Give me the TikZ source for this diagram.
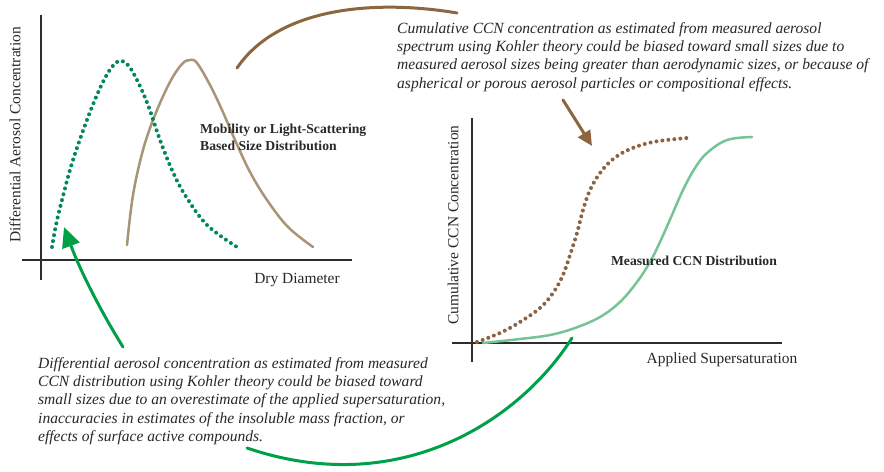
\documentclass[tikz,border=0pt]{standalone}
\usepackage{fontspec}
\setmainfont{Liberation Serif}
\usetikzlibrary{arrows.meta}
\definecolor{axisgray}{RGB}{45,45,45}
\definecolor{txtgray}{RGB}{40,40,40}
\definecolor{tanbrown}{RGB}{168,148,118}
\definecolor{arrowbrown}{RGB}{140,102,62}
\definecolor{dotbrown}{RGB}{140,100,68}
\definecolor{dotgreen}{RGB}{0,135,90}
\definecolor{lightgreen}{RGB}{118,196,150}
\definecolor{arrowgreen}{RGB}{0,160,72}
\tikzset{
  axisline/.style={draw=axisgray,line width=1.5bp},
  axislabel/.style={font=\fontsize{15.5}{17}\selectfont,text=txtgray,inner sep=0pt},
  curvelabel/.style={font=\bfseries\fontsize{13.7}{17}\selectfont,text=txtgray,inner sep=0pt,align=left},
  note/.style={font=\itshape\fontsize{15.6}{18.4}\selectfont,text=txtgray,inner sep=0pt,align=left,anchor=north west},
  dotline/.style={line width=4bp,dash pattern=on 0pt off 6bp,line cap=round},
  solidcurve/.style={line width=2.5bp,line cap=round},
  brownarrow/.style={draw=arrowbrown,line width=3bp,line cap=round},
  greenarrow/.style={draw=arrowgreen,line width=3bp,line cap=round}
}
\begin{document}
\begin{tikzpicture}[x=1bp,y=-1bp]
\useasboundingbox[fill=white] (0,0) rectangle (884,472);
% left plot axes
\coordinate (lyT) at (41,15); \coordinate (lyB) at (41,280);
\coordinate (lxL) at (22,260); \coordinate (lxR) at (352,260);
\draw[axisline] (lyT) -- (lyB);
\draw[axisline] (lxL) -- (lxR);
\node[axislabel,rotate=90] (lylab) at (15,135) {Differential Aerosol Concentration};
\node[axislabel] (lxlab) at (297,280) {Dry Diameter};
% left curves
\draw[solidcurve,draw=tanbrown] plot[smooth,tension=0.6] coordinates {(127,245) (133,195) (143,150) (155,115) (170,82) (182,64) (190,60) (197,63) (210,85) (222,110) (235,140) (250,172) (267,200) (288,227) (313,247)};
\draw[dotline,draw=dotgreen] plot[smooth,tension=0.6] coordinates {(52,247) (56,225) (62,200) (73,160) (90,112) (105,78) (117,62) (127,64) (137,80) (148,105) (160,140) (172,170) (185,195) (207,225) (237,247)};
\node[curvelabel,anchor=west] (mob) at (200,137) {Mobility or Light-Scattering\\Based Size Distribution};
% right plot axes
\coordinate (ryT) at (472,118); \coordinate (ryB) at (472,362);
\coordinate (rxL) at (452,343); \coordinate (rxR) at (782,343);
\draw[axisline] (ryT) -- (ryB);
\draw[axisline] (rxL) -- (rxR);
\node[axislabel,rotate=90] (rylab) at (453,225) {Cumulative CCN Concentration};
\node[axislabel] (rxlab) at (722,360) {Applied Supersaturation};
% right curves
\draw[solidcurve,draw=lightgreen] plot[smooth,tension=0.6] coordinates {(483,343) (520,339) (550,335) (575,328) (600,317) (620,302) (637,282) (650,262) (660,242) (672,215) (683,190) (695,168) (707,153) (727,140) (752,137)};
\draw[dotline,draw=dotbrown] plot[smooth,tension=0.6] coordinates {(477,342) (500,333) (520,322) (540,308) (553,293) (563,275) (570,255) (577,233) (583,210) (590,190) (600,173) (612,160) (628,150) (653,142) (687,138)};
\node[curvelabel] (meas) at (694,261) {Measured CCN Distribution};
% annotations
\node[note] (topnote) at (397,22) {Cumulative CCN concentration as estimated from measured aerosol\\spectrum using Kohler theory could be biased toward small sizes due to\\measured aerosol sizes being greater than aerodynamic sizes, or because of\\aspherical or porous aerosol particles or compositional effects.};
\node[note] (botnote) at (38,357) {Differential aerosol concentration as estimated from measured\\CCN distribution using Kohler theory could be biased toward\\small sizes due to an overestimate of the applied supersaturation,\\inaccuracies in estimates of the insoluble mass fraction, or\\effects of surface active compounds.};
% brown connector
\coordinate (bA) at (237,68);
\coordinate (bB) at (457,13);
\draw[brownarrow] (bA) .. controls (280,5) and (380,0) .. (bB);
\coordinate (bC) at (563,100);
\coordinate (bD) at (592,146);
\draw[brownarrow,-{Triangle[length=15bp,width=14bp]}] (bC) -- (bD);
% green connector
\coordinate (gA) at (572,338);
\coordinate (gB) at (247,448);
\draw[greenarrow] (gA) .. controls (520,420) and (400,500) .. (gB);
\coordinate (gC) at (123,347);
\coordinate (gD) at (64,227);
\draw[greenarrow,-{Triangle[length=20bp,width=18bp]}] (gC) .. controls (100,310) and (80,270) .. (gD);
\end{tikzpicture}
\end{document}
